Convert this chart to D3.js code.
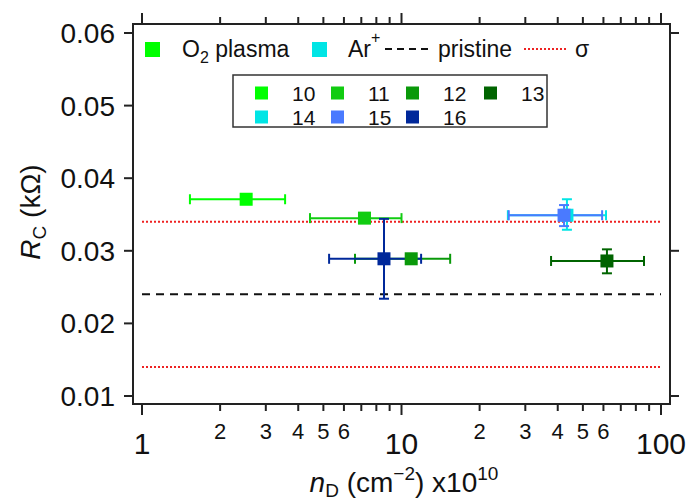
<!doctype html>
<html>
  <head>
    <meta charset="utf-8">
    <title>Rc vs nD</title>
    <script src="https://cdn.jsdelivr.net/npm/d3@7"></script>
    <style>
      html, body { margin:0; padding:0; overflow:hidden; background:#fff }
      svg { font-family: "Liberation Sans", Arial, sans-serif; }
    </style>
  </head>
  <body>
    <div id="chart"></div>
    <script>
      // samples and their colours
      var samples = ["10", "11", "12", "13", "14", "15", "16"];
      var colors  = ["#00ff00", "#11cc11", "#0a990a", "#006400", "#00e5e5", "#4a7aff", "#00289a"];

      // defect density (x10^10 cm^-2) with error range
      var nD   = [2.52, 7.2, 10.9, 61.9, 43.4, 42.3, 8.56];
      var nDLo = [1.53, 4.44, 6.62, 37.7, 25.7, 25.9, 5.26];
      var nDHi = [3.56, 10.0, 15.4, 86.0, 61.4, 59.3, 11.9];

      // contact resistance (kOhm) with error range (null = none drawn)
      var rC   = [0.0371, 0.0345, 0.0289, 0.0286, 0.0349, 0.0349, 0.0289];
      var rCLo = [null, null, null, 0.0269, 0.0329, 0.0334, 0.0234];
      var rCHi = [null, null, null, 0.0302, 0.0371, 0.0363, 0.0344];

      var pristine = 0.024;
      var sigma = [0.014, 0.034];

      var xMajor = [1, 10, 100];
      var xMinor = [2, 3, 4, 5, 6, 7, 8, 9, 20, 30, 40, 50, 60, 70, 80, 90];
      var xMinorLabels = [2, 3, 4, 5, 6, 20, 30, 40, 50, 60];
      var yTicks = [0.01, 0.02, 0.03, 0.04, 0.05, 0.06];
      var yRightTicks = [0.06, 0.03, 0.01];

      var W = 687, H = 501;
      var frame = {left: 133, right: 670, top: 24, bottom: 404};

      var x = d3.scaleLog().domain([1, 100]).range([142, 661]);
      var y = d3.scaleLinear().domain([0.01, 0.06]).range([396, 33]);

      var svg = d3.select("#chart").append("svg")
        .attr("width", W).attr("height", H);

      // frame
      svg.append("rect")
        .attr("x", frame.left).attr("y", frame.top)
        .attr("width", frame.right - frame.left)
        .attr("height", frame.bottom - frame.top)
        .attr("fill", "none").attr("stroke", "#222").attr("stroke-width", 2);

      // bottom axis
      var axB = svg.append("g").attr("transform", "translate(0," + frame.bottom + ")");
      axB.selectAll("line.maj").data(xMajor).enter().append("line")
        .attr("x1", x).attr("x2", x).attr("y1", 0).attr("y2", 11)
        .attr("stroke", "#222").attr("stroke-width", 2);
      axB.selectAll("line.min").data(xMinor).enter().append("line")
        .attr("x1", x).attr("x2", x).attr("y1", 0).attr("y2", 7)
        .attr("stroke", "#222").attr("stroke-width", 2);
      axB.selectAll("text.maj").data(xMajor).enter().append("text")
        .attr("x", x).attr("y", 50)
        .attr("text-anchor", "middle").attr("font-size", 30).attr("fill", "#111")
        .text(function(d) { return d; });
      axB.selectAll("text.min").data(xMinorLabels).enter().append("text")
        .attr("x", x).attr("y", 35)
        .attr("text-anchor", "middle").attr("font-size", 22).attr("fill", "#111")
        .text(function(d) { return String(d).charAt(0); });

      // top axis (ticks only)
      var axT = svg.append("g").attr("transform", "translate(0," + frame.top + ")");
      axT.selectAll("line.maj").data(xMajor).enter().append("line")
        .attr("x1", x).attr("x2", x).attr("y1", 0).attr("y2", -11)
        .attr("stroke", "#222").attr("stroke-width", 2);
      axT.selectAll("line.min").data(xMinor).enter().append("line")
        .attr("x1", x).attr("x2", x).attr("y1", 0).attr("y2", -7)
        .attr("stroke", "#222").attr("stroke-width", 2);

      // left axis
      var axL = svg.append("g").attr("transform", "translate(" + frame.left + ",0)");
      axL.selectAll("line").data(yTicks).enter().append("line")
        .attr("x1", 0).attr("x2", -9).attr("y1", y).attr("y2", y)
        .attr("stroke", "#222").attr("stroke-width", 2);
      axL.selectAll("text").data(yTicks).enter().append("text")
        .attr("x", -18).attr("y", function(d) { return y(d) + 10; })
        .attr("text-anchor", "end").attr("font-size", 28).attr("fill", "#111")
        .text(function(d) { return d3.format(".2f")(d); });

      // right axis ticks
      svg.append("g").attr("transform", "translate(" + frame.right + ",0)")
        .selectAll("line").data(yRightTicks).enter().append("line")
        .attr("x1", 0).attr("x2", 9).attr("y1", y).attr("y2", y)
        .attr("stroke", "#222").attr("stroke-width", 2);

      // axis titles
      var yt = svg.append("text")
        .attr("transform", "translate(40,212) rotate(-90)")
        .attr("text-anchor", "middle").attr("font-size", 28).attr("fill", "#111");
      yt.append("tspan").attr("font-style", "italic").text("R");
      yt.append("tspan").attr("font-size", 19).attr("dy", 6).text("C");
      yt.append("tspan").attr("dy", -6).text(" (kΩ)");

      var xt = svg.append("text")
        .attr("x", 404).attr("y", 492)
        .attr("text-anchor", "middle").attr("font-size", 28).attr("fill", "#111");
      xt.append("tspan").attr("font-style", "italic").text("n");
      xt.append("tspan").attr("font-size", 19).attr("dy", 5).text("D");
      xt.append("tspan").attr("dy", -5).text(" (cm");
      xt.append("tspan").attr("font-size", 19).attr("dy", -12).text("−2");
      xt.append("tspan").attr("dy", 12).text(") x10");
      xt.append("tspan").attr("font-size", 19).attr("dy", -12).text("10");

      // reference lines
      svg.append("line")
        .attr("x1", x(1)).attr("x2", x(100)).attr("y1", y(pristine)).attr("y2", y(pristine))
        .attr("stroke", "#111").attr("stroke-width", 2).attr("stroke-dasharray", "8,6");
      svg.selectAll("line.sigma").data(sigma).enter().append("line")
        .attr("x1", x(1)).attr("x2", x(100)).attr("y1", y).attr("y2", y)
        .attr("stroke", "#ee2222").attr("stroke-width", 2).attr("stroke-dasharray", "2,2");

      // points: error bars first, then the markers on top
      var idx = d3.range(samples.length);
      var cap = 5;
      var bars = svg.append("g").attr("stroke-width", 2);
      idx.forEach(function(i) {
        var g = bars.append("g").attr("stroke", colors[i]);
        var cy = y(rC[i]);
        g.append("line").attr("x1", x(nDLo[i])).attr("x2", x(nDHi[i])).attr("y1", cy).attr("y2", cy);
        g.append("line").attr("x1", x(nDLo[i])).attr("x2", x(nDLo[i])).attr("y1", cy - cap).attr("y2", cy + cap);
        g.append("line").attr("x1", x(nDHi[i])).attr("x2", x(nDHi[i])).attr("y1", cy - cap).attr("y2", cy + cap);
        if (rCLo[i] != null) {
          var cx = x(nD[i]);
          g.append("line").attr("x1", cx).attr("x2", cx).attr("y1", y(rCLo[i])).attr("y2", y(rCHi[i]));
          g.append("line").attr("x1", cx - cap).attr("x2", cx + cap).attr("y1", y(rCLo[i])).attr("y2", y(rCLo[i]));
          g.append("line").attr("x1", cx - cap).attr("x2", cx + cap).attr("y1", y(rCHi[i])).attr("y2", y(rCHi[i]));
        }
      });
      var ms = 13;
      svg.append("g").selectAll("rect").data(idx).enter().append("rect")
        .attr("x", function(i) { return x(nD[i]) - ms / 2; })
        .attr("y", function(i) { return y(rC[i]) - ms / 2; })
        .attr("width", ms).attr("height", ms)
        .attr("fill", function(i) { return colors[i]; });

      // legend 1
      var l1 = svg.append("g").attr("font-size", 23).attr("fill", "#111");
      l1.append("rect").attr("x", 145).attr("y", 42).attr("width", 15).attr("height", 15).attr("fill", colors[0]);
      var t1 = l1.append("text").attr("x", 182).attr("y", 57);
      t1.append("tspan").text("O");
      t1.append("tspan").attr("font-size", 16).attr("dy", 6).text("2");
      t1.append("tspan").attr("dy", -6).text(" plasma");
      l1.append("rect").attr("x", 312).attr("y", 42).attr("width", 15).attr("height", 15).attr("fill", colors[4]);
      var t2 = l1.append("text").attr("x", 348).attr("y", 57);
      t2.append("tspan").text("Ar");
      t2.append("tspan").attr("font-size", 16).attr("dy", -14).text("+");
      l1.append("line").attr("x1", 385).attr("x2", 430).attr("y1", 49).attr("y2", 49)
        .attr("stroke", "#111").attr("stroke-width", 2).attr("stroke-dasharray", "7,5");
      l1.append("text").attr("x", 438).attr("y", 57).text("pristine");
      l1.append("line").attr("x1", 524).attr("x2", 568).attr("y1", 49).attr("y2", 49)
        .attr("stroke", "#ee2222").attr("stroke-width", 2).attr("stroke-dasharray", "2,2");
      l1.append("text").attr("x", 575).attr("y", 57).text("σ");

      // legend 2 (sample numbers)
      var l2 = svg.append("g").attr("font-size", 21).attr("fill", "#111");
      l2.append("rect").attr("x", 233).attr("y", 75).attr("width", 314).attr("height", 52)
        .attr("fill", "#fff").attr("stroke", "#333").attr("stroke-width", 1.5);
      var colX = [255, 331, 406, 484];
      idx.forEach(function(i) {
        var c = i % 4, r = Math.floor(i / 4);
        var cy = 93 + r * 24;
        l2.append("rect").attr("x", colX[c]).attr("y", cy - 6.5).attr("width", 13).attr("height", 13)
          .attr("fill", colors[i]);
        l2.append("text").attr("x", colX[c] + 37).attr("y", cy + 8).text(samples[i]);
      });
    </script>
  </body>
</html>
